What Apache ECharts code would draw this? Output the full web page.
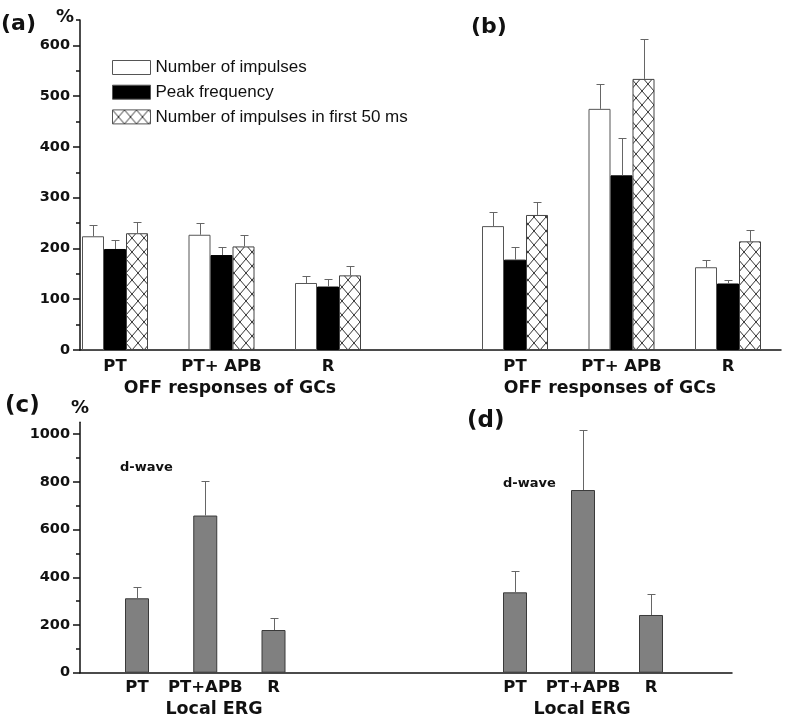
<!DOCTYPE html>
<html><head><meta charset="utf-8">
<script src="https://cdn.jsdelivr.net/npm/echarts@6/dist/echarts.min.js"></script>
<style>html,body{margin:0;padding:0;background:#fff}#chart{width:787px;height:725px}</style>
</head><body><div id="chart"></div>
<script>
// ---- data ----
const offCategories = ['PT', 'PT+ APB', 'R'];
const ergCategories = ['PT', 'PT+APB', 'R'];
const seriesNames = ['Number of impulses', 'Peak frequency', 'Number of impulses in first 50 ms'];
const aImpulses = [224, 227, 132];
const aImpulsesSem = [23, 24, 13];
const aPeak = [199, 187, 125];
const aPeakSem = [17, 16, 15];
const aFirst50 = [230, 204, 147];
const aFirst50Sem = [23, 22, 19];
const bImpulses = [244, 475, 163];
const bImpulsesSem = [27, 48, 15];
const bPeak = [178, 344, 131];
const bPeakSem = [25, 73, 7];
const bFirst50 = [266, 534, 214];
const bFirst50Sem = [25, 78, 22];
const cDwave = [312, 659, 179];
const cDwaveSem = [49, 145, 49];
const dDwave = [337, 766, 242];
const dDwaveSem = [88, 251, 87];
const offTicks = [0, 100, 200, 300, 400, 500, 600];
const offMinorTicks = [50, 150, 250, 350, 450, 550, 650];
const ergTicks = [0, 200, 400, 600, 800, 1000];
const ergMinorTicks = [100, 300, 500, 700, 900];

// ---- styles ----
const BOLD = 'DejaVu Sans';
const AX = '#111';
function hatchCanvas() {
  const c = document.createElement('canvas');
  c.width = 12; c.height = 14;
  const g = c.getContext('2d');
  g.fillStyle = '#fff'; g.fillRect(0, 0, 12, 14);
  g.strokeStyle = '#333'; g.lineWidth = 1;
  g.beginPath();
  g.moveTo(-1, -14 / 12); g.lineTo(13, 14 + 14 / 12);
  g.moveTo(13, -14 / 12); g.lineTo(-1, 14 + 14 / 12);
  g.stroke();
  return c;
}
const hatch = { image: hatchCanvas(), repeat: 'repeat' };
const styles = [
  { color: '#fff', borderColor: '#555', borderWidth: 1 },
  { color: '#000', borderColor: '#000', borderWidth: 1 },
  { color: hatch, borderColor: '#444', borderWidth: 1 }
];
const grayStyle = { color: '#808080', borderColor: '#3a3a3a', borderWidth: 1 };

// bar on category axis idx; hidden y axes: grid1->2, grid2->3, grid4->6, grid5->7
function bar(name, data, idx, style, width) {
  return { type: 'bar', name, data, xAxisIndex: idx, yAxisIndex: idx + (idx >= 3 ? 2 : 1), barWidth: width,
    barGap: '0%', clip: false, silent: true, itemStyle: style, z: 2 };
}
function err(means, sems, xi, yi, dx, cap) {
  return { type: 'custom', xAxisIndex: xi, yAxisIndex: yi, silent: true, z: 3, clip: false,
    data: means.map((m, i) => [i, m, m + sems[i]]),
    encode: { x: 0, y: [1, 2] },
    renderItem(params, api) {
      const p0 = api.coord([api.value(0), api.value(1)]);
      const p1 = api.coord([api.value(0), api.value(2)]);
      const x = Math.round(p0[0] + dx) + 0.5;
      const yt = Math.round(p1[1]) + 0.5;
      return { type: 'group', children: [
        { type: 'line', shape: { x1: x, y1: p0[1], x2: x, y2: yt }, style: { stroke: '#666', lineWidth: 1 } },
        { type: 'line', shape: { x1: x - cap / 2, y1: yt, x2: x + cap / 2, y2: yt }, style: { stroke: '#666', lineWidth: 1 } }
      ] };
    } };
}

const topRow = { top: 20, height: 330 };
const botRow = { top: 422.3, height: 250.4 };
const grids = [
  Object.assign({ left: 80, width: 701 }, topRow),
  Object.assign({ left: 115, width: 213 }, topRow),
  Object.assign({ left: 515, width: 213 }, topRow),
  Object.assign({ left: 80, width: 652 }, botRow),
  Object.assign({ left: 137, width: 136.5 }, botRow),
  Object.assign({ left: 515, width: 136 }, botRow)
];
const frameX = (gi) => ({ gridIndex: gi, type: 'value', min: 0, max: 1,
  axisLine: { show: true, lineStyle: { color: AX, width: 1.5 } }, axisTick: { show: false },
  axisLabel: { show: false }, splitLine: { show: false } });
const catX = (gi, cats, margin) => ({ gridIndex: gi, type: 'category', data: cats, boundaryGap: false,
  axisLine: { show: false }, axisTick: { show: false },
  axisLabel: { margin, color: '#111', fontFamily: BOLD, fontWeight: 'bold', fontSize: 16.5, interval: 0 } });
const majorY = (gi, max, ticks) => ({ gridIndex: gi, type: 'value', position: 'left', min: 0, max,
  interval: ticks[1] - ticks[0],
  axisLine: { show: true, lineStyle: { color: AX, width: 1.5 } },
  axisTick: { show: true, customValues: ticks, length: 7, lineStyle: { color: AX, width: 1.5 } },
  axisLabel: { customValues: ticks, margin: 10, color: '#111', fontFamily: BOLD, fontWeight: 'bold',
    fontSize: 14.5, formatter: (v) => String(v) },
  splitLine: { show: false } });
const minorY = (gi, max, ticks) => ({ gridIndex: gi, type: 'value', position: 'left', offset: 0, min: 0, max,
  axisLine: { show: false },
  axisTick: { show: true, customValues: ticks, length: 4, lineStyle: { color: AX, width: 1.5 } },
  axisLabel: { show: false }, splitLine: { show: false } });
const hiddenY = (gi, max) => ({ gridIndex: gi, type: 'value', min: 0, max, show: false });

const txt = (text, x, y, size, align, weight, family) => ({ type: 'text', x, y, silent: true,
  style: { text, fill: '#111', fontFamily: family || BOLD, fontWeight: weight || 'bold', fontSize: size,
    textAlign: align || 'left', textVerticalAlign: 'middle' } });

const option = {
  animation: false,
  backgroundColor: '#fff',
  grid: grids,
  xAxis: [frameX(0), catX(1, offCategories, 8), catX(2, offCategories, 8),
    frameX(3), catX(4, ergCategories, 7), catX(5, ergCategories, 7)],
  yAxis: [majorY(0, 650, offTicks), minorY(0, 650, offMinorTicks), hiddenY(1, 650), hiddenY(2, 650),
    majorY(3, 1050, ergTicks), minorY(3, 1050, ergMinorTicks), hiddenY(4, 1050), hiddenY(5, 1050)],
  legend: { data: seriesNames, orient: 'vertical', left: 112, top: 59, padding: 0, itemWidth: 38, itemHeight: 14,
    itemGap: 7.7, icon: 'rect', selectedMode: false,
    itemStyle: { borderColor: '#555', borderWidth: 1 },
    textStyle: { fontFamily: 'Liberation Sans', fontSize: 17, color: '#111' } },
  series: [
    bar(seriesNames[0], aImpulses, 1, styles[0], 22),
    bar(seriesNames[1], aPeak, 1, styles[1], 22),
    bar(seriesNames[2], aFirst50, 1, styles[2], 22),
    bar(seriesNames[0], bImpulses, 2, styles[0], 22),
    bar(seriesNames[1], bPeak, 2, styles[1], 22),
    bar(seriesNames[2], bFirst50, 2, styles[2], 22),
    bar('d-wave', cDwave, 4, grayStyle, 24),
    bar('d-wave', dDwave, 5, grayStyle, 24),
    err(aImpulses, aImpulsesSem, 1, 2, -22, 8),
    err(aPeak, aPeakSem, 1, 2, 0, 8),
    err(aFirst50, aFirst50Sem, 1, 2, 22, 8),
    err(bImpulses, bImpulsesSem, 2, 3, -22, 8),
    err(bPeak, bPeakSem, 2, 3, 0, 8),
    err(bFirst50, bFirst50Sem, 2, 3, 22, 8),
    err(cDwave, cDwaveSem, 4, 6, 0, 8),
    err(dDwave, dDwaveSem, 5, 7, 0, 8)
  ],
  graphic: [
    txt('(a)', 1, 24, 22),
    txt('%', 65, 17, 18, 'center'),
    txt('(b)', 471, 27, 22),
    txt('OFF responses of GCs', 230, 389, 17.3, 'center'),
    txt('OFF responses of GCs', 610, 389, 17.3, 'center'),
    txt('(c)', 5, 406, 23),
    txt('%', 80, 408, 18, 'center'),
    txt('(d)', 467, 421, 23),
    txt('d-wave', 120, 468, 13),
    txt('d-wave', 503, 484, 13),
    txt('Local ERG', 214, 709, 17.5, 'center'),
    txt('Local ERG', 582, 709, 17.5, 'center')
  ]
};
const chart = echarts.init(document.getElementById('chart'), null, { renderer: 'canvas' });
chart.setOption(option);
</script>
</body></html>
